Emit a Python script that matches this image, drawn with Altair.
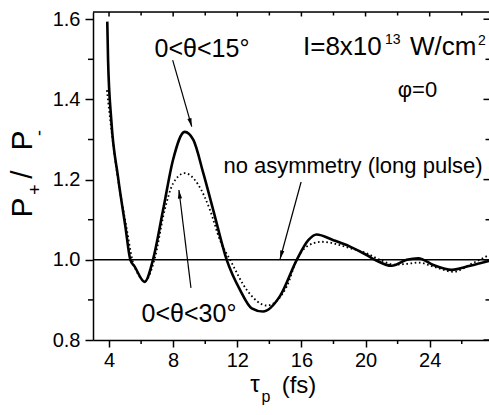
import altair as alt
import pandas as pd

# ---- data ----
tau_15 = [3.89, 3.94, 4.14, 4.56, 5.02, 5.33, 5.60, 6.22, 6.74, 7.37, 7.99, 8.72,
          9.26, 9.88, 10.5, 11.34, 12.17, 12.9, 13.6, 14.67, 15.71, 16.43, 16.95,
          17.99, 19.03, 20.07, 20.59, 21.63, 22.57, 23.29, 24.23, 25.38, 26.52, 27.7]
ratio_15 = [1.594, 1.498, 1.349, 1.207, 1.083, 1.0, 0.983, 0.945, 1.0, 1.124, 1.249, 1.319,
            1.299, 1.216, 1.124, 1.0, 0.925, 0.879, 0.871, 0.91, 1.0, 1.049, 1.063,
            1.049, 1.033, 1.012, 1.0, 0.985, 1.0, 1.004, 0.987, 0.975, 0.985, 0.997]

tau_30 = [3.87, 4.1, 4.6, 5.08, 5.45, 5.8, 6.24, 6.83, 7.47, 7.99, 8.72, 9.57, 10.3,
          10.92, 11.55, 12.59, 13.85, 15.08, 15.71, 16.33, 17.25, 19.03, 20.07, 20.9,
          21.8, 22.6, 23.3, 24.3, 25.48, 26.6, 27.7]
ratio_30 = [1.423, 1.34, 1.19, 1.083, 1.0, 0.965, 0.947, 1.0, 1.124, 1.19, 1.216, 1.187, 1.124,
            1.049, 1.0, 0.925, 0.886, 0.933, 1.0, 1.033, 1.045, 1.029, 1.016, 1.0,
            0.988, 0.99, 0.993, 0.982, 0.970, 0.99, 1.012]

x_major = [4, 8, 12, 16, 20, 24]
x_minor = [6, 10, 14, 18, 22, 26]
y_major = [0.8, 1.0, 1.2, 1.4, 1.6]
y_minor = [0.9, 1.1, 1.3, 1.5]
reference_level = [1.0]

# arrows: start (x, y) -> tip (x, y), head angle (deg)
arrow_x = [7.97, 9.11, 15.98]
arrow_y = [1.498, 0.930, 1.194]
arrow_x2 = [9.16, 8.36, 14.67]
arrow_y2 = [1.332, 1.174, 1.002]
arrow_angle = [164, 353, 195]

# ---- layout ----
W, H = 396, 328
PADL, PADT = 93, 12
FONT = "Liberation Sans"

xs = alt.Scale(domain=[3, 27.7], nice=False, zero=False)
ys = alt.Scale(domain=[0.8, 1.618], nice=False, zero=False)

df15 = pd.DataFrame({"tau": tau_15, "ratio": ratio_15})
df30 = pd.DataFrame({"tau": tau_30, "ratio": ratio_30})
one = pd.DataFrame({"a": [0]})

x_axis = alt.Axis(values=x_major, format="d", title=None, grid=False, tickSize=7,
                  labelPadding=3, labelFontSize=20, labelFont=FONT, labelColor="black",
                  tickColor="black", domainColor="black", tickWidth=1.5, domainWidth=1.5)
y_axis = alt.Axis(values=y_major, format=".1f", title=None, grid=False, tickSize=8,
                  labelPadding=5, labelFontSize=20, labelFont=FONT, labelColor="black",
                  tickColor="black", domainColor="black", tickWidth=1.5, domainWidth=1.5)


def X(field):
    return alt.X(field, scale=xs, axis=x_axis)


def Y(field):
    return alt.Y(field, scale=ys, axis=y_axis)


solid = alt.Chart(df15).mark_line(color="black", strokeWidth=2.6, interpolate="monotone").encode(
    x=X("tau:Q"), y=Y("ratio:Q"))
dotted = alt.Chart(df30).mark_line(color="black", strokeWidth=1.8, strokeDash=[1.6, 2.6],
                                   interpolate="monotone").encode(
    x=X("tau:Q"), y=Y("ratio:Q"))

hline = alt.Chart(pd.DataFrame({"ratio": reference_level})).mark_rule(
    color="black", strokeWidth=1.5).encode(y=Y("ratio:Q"))


def xticks(vals, y0, y1):
    return alt.Chart(pd.DataFrame({"tau": vals})).mark_rule(color="black", strokeWidth=1.5).encode(
        x=X("tau:Q"), y=alt.value(y0), y2=alt.value(y1))


def yticks(vals, x0, x1):
    return alt.Chart(pd.DataFrame({"ratio": vals})).mark_rule(color="black", strokeWidth=1.5).encode(
        y=Y("ratio:Q"), x=alt.value(x0), x2=alt.value(x1))


tick_layers = [
    xticks(x_minor, H, H + 4),
    xticks(x_major, 0, 4.5),
    xticks(x_minor, 0, 3.5),
    yticks(y_minor, -5, 0),
    yticks(y_major, W - 5.5, W),
    yticks(y_minor, W - 3.5, W),
]

top_border = alt.Chart(one).mark_rule(color="black", strokeWidth=1.5).encode(
    x=alt.value(0), x2=alt.value(W), y=alt.value(0))

arrows_df = pd.DataFrame({"tau": arrow_x, "ratio": arrow_y, "tau2": arrow_x2,
                          "ratio2": arrow_y2, "ang": arrow_angle})
arrow_lines = alt.Chart(arrows_df).mark_rule(color="black", strokeWidth=1.2).encode(
    x=X("tau:Q"), y=Y("ratio:Q"), x2="tau2:Q", y2="ratio2:Q")
arrow_heads = alt.Chart(arrows_df).mark_point(
    shape="M0,0L-0.6,2.4L0.6,2.4Z", filled=True, color="black", size=50, opacity=1).encode(
    x=X("tau2:Q"), y=Y("ratio2:Q"), angle=alt.Angle("ang:Q", scale=None))


def label(text, px, py, size, align="center", baseline="alphabetic", angle=0):
    return alt.Chart(one).mark_text(text=text, fontSize=size, font=FONT, align=align,
                                    baseline=baseline, angle=angle, color="black").encode(
        x=alt.value(px - PADL), y=alt.value(py - PADT))


texts = [
    label("0<θ<15°", 202, 56.5, 25),
    label("0<θ<30°", 189, 321.5, 25),
    label("I=8x10", 303, 55, 26, align="left"),
    label("13", 385, 44, 14, align="left"),
    label("W/cm", 410, 55, 26, align="left"),
    label("2", 478, 45, 14, align="left"),
    label("φ=0", 417.5, 97, 22),
    label("no asymmetry (long pulse)", 353, 173, 22),
    # x title
    label("τ", 255, 391.5, 24),
    label("p", 266, 402, 16),
    label("(fs)", 299, 393, 24),
    # y title (rotated)
    label("P", 22.5, 207.5, 30, baseline="middle", angle=270),
    label("+", 35.5, 189.5, 18, baseline="middle", angle=270),
    label("/", 23, 174.5, 30, baseline="middle", angle=270),
    label("P", 22.5, 140.5, 30, baseline="middle", angle=270),
    label("-", 40, 133, 18, baseline="middle", angle=270),
]

chart = alt.layer(
    solid, dotted, hline, *tick_layers, top_border, arrow_lines, arrow_heads, *texts
).properties(
    width=W, height=H,
    autosize=alt.AutoSizeParams(type="none"),
    padding={"left": PADL, "top": PADT, "right": 0, "bottom": 415 - PADT - H},
).configure_view(stroke=None).configure(background="white")

chart.save("out.html", embed_options={"renderer": "svg", "actions": False})
